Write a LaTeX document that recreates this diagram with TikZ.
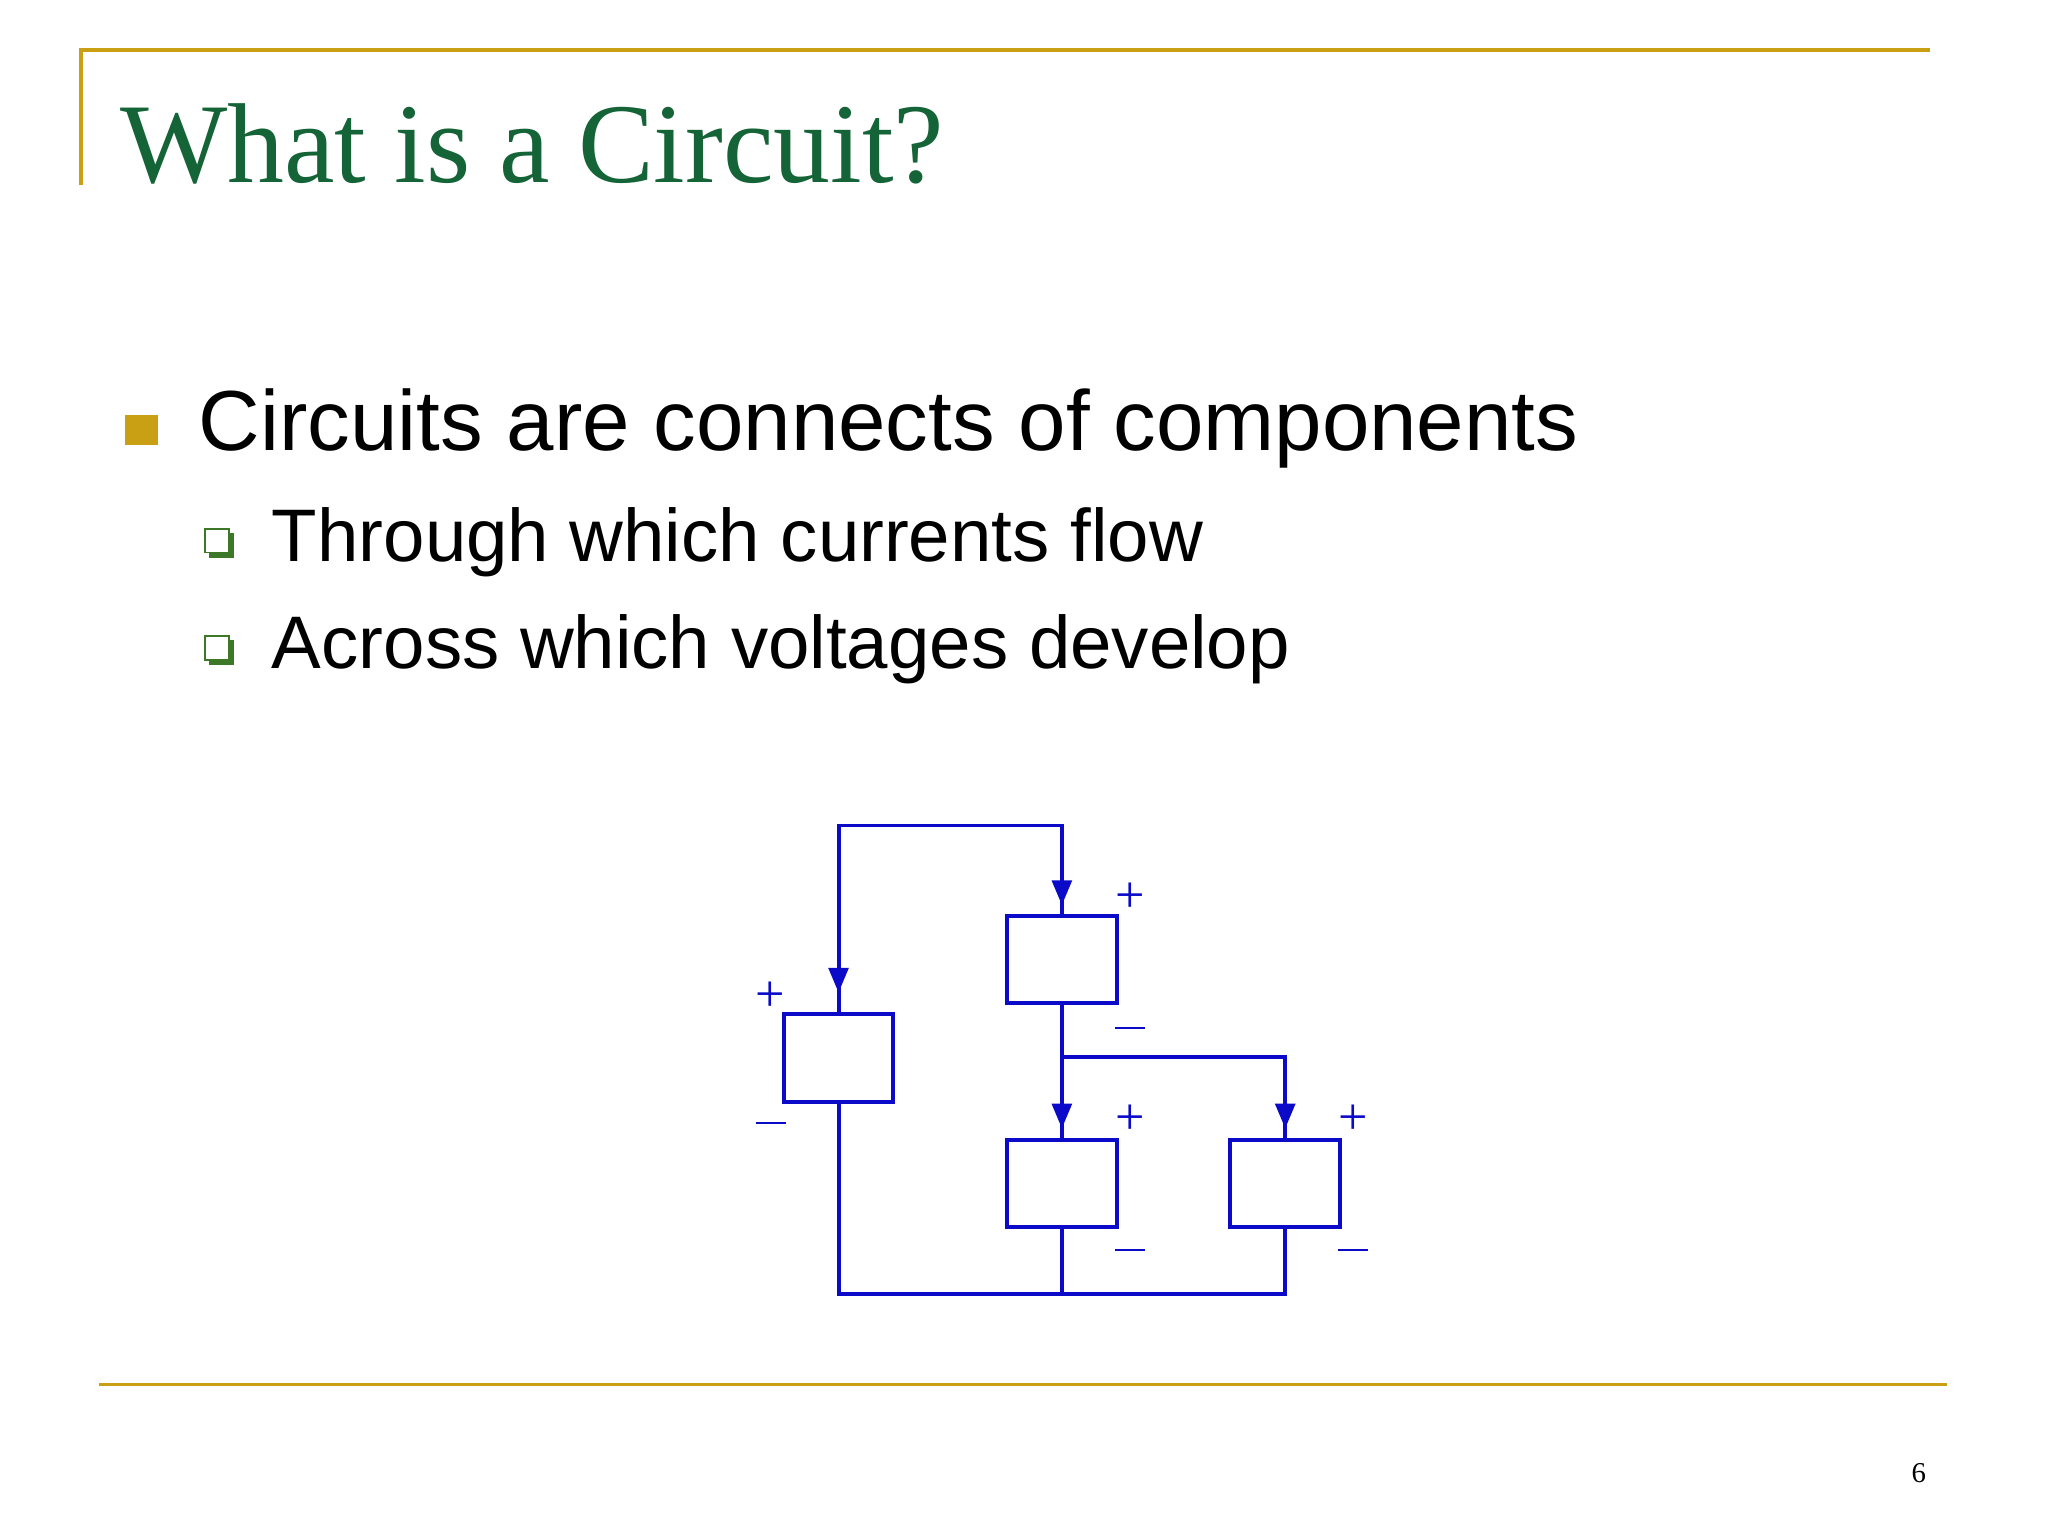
\documentclass[tikz,border=0pt]{standalone}
\usepackage{fontspec}
\setmainfont{Liberation Serif}
\newfontfamily\arialf{Liberation Sans}
\usetikzlibrary{arrows.meta}
\definecolor{gold}{RGB}{201,160,20}
\definecolor{ttlgreen}{RGB}{20,100,55}
\definecolor{subgreen}{RGB}{60,120,40}
\definecolor{wire}{RGB}{10,10,200}
\begin{document}
\begin{tikzpicture}[x=1pt,y=-1pt,
  comp/.style={draw=wire,line width=3pt,minimum width=84pt,minimum height=67pt,inner sep=0pt},
  wr/.style={draw=wire,line width=3pt},
  arr/.style={wr,-{Triangle[width=15pt,length=19pt]}},
  sign/.style={text=wire,font=\fontsize{40}{40}\selectfont,inner sep=0pt},
  sub/.style={anchor=base west,inner sep=0pt,font=\arialf\fontsize{57}{57}\selectfont}]
\useasboundingbox (0,0) rectangle (1568,1177);
\fill[white] (0,0) rectangle (1568,1177);
\draw[gold,line width=3pt] (62,142) -- (62,38) -- (1478,38);
\draw[gold,line width=3pt] (76,1060) -- (1491,1060);
\node[anchor=base west,inner sep=0pt,text=ttlgreen,font=\fontsize{87}{87}\selectfont] (title) at (92,140) {What is a Circuit?};
\fill[gold] (96,318) rectangle (121,341);
\node[anchor=base west,inner sep=0pt,font=\arialf\fontsize{65.3}{65}\selectfont] (b1) at (152,345) {Circuits are connects of components};
\foreach \y/\t [count=\i] in {427/Through which currents flow,509/Across which voltages develop}{
  \fill[subgreen] (160,\y-19) rectangle (179,\y);
  \fill[white] (157,\y-22) rectangle (175,\y-4);
  \draw[subgreen,line width=1.5pt] (157,\y-22) rectangle (175,\y-4);
  \node[sub] (s\i) at (208,\y+3) {\t};
}
\node[comp] (A) at (642,810) {};
\node[comp] (B) at (813,734.5) {};
\node[comp] (C) at (813,906) {};
\node[comp] (D) at (984,906) {};
\coordinate (tl) at (642,632); \coordinate (tr) at (813,632);
\coordinate (j) at (813,809); \coordinate (jr) at (984,809);
\coordinate (bl) at (642,991); \coordinate (bm) at (813,991); \coordinate (br) at (984,991);
\draw[wr] (A.north) -- (tl) -- (tr) -- (B.north);
\draw[arr] (tr) -- (813,693);
\draw[arr] (tl) -- (642,760);
\draw[wr] (B.south) -- (C.north);
\draw[arr] (j) -- (813,864);
\draw[wr] (j) -- (jr) -- (D.north);
\draw[arr] (jr) -- (984,864);
\draw[wr] (A.south) -- (bl) -- (br) -- (D.south);
\draw[wr] (C.south) -- (bm);
\foreach \n/\x/\yp/\ym in {pa/590/763/860,pb/865/687/787,pc/865/857/957,pd/1036/857/957}{
  \node[sign] (\n p) at (\x,\yp) {+};
  \node[sign] (\n m) at (\x,\ym) {\rule{23pt}{1.3pt}};
}
\node[font=\fontsize{22}{22}\selectfont,inner sep=0pt] (pg) at (1469,1128) {6};
\end{tikzpicture}
\end{document}
